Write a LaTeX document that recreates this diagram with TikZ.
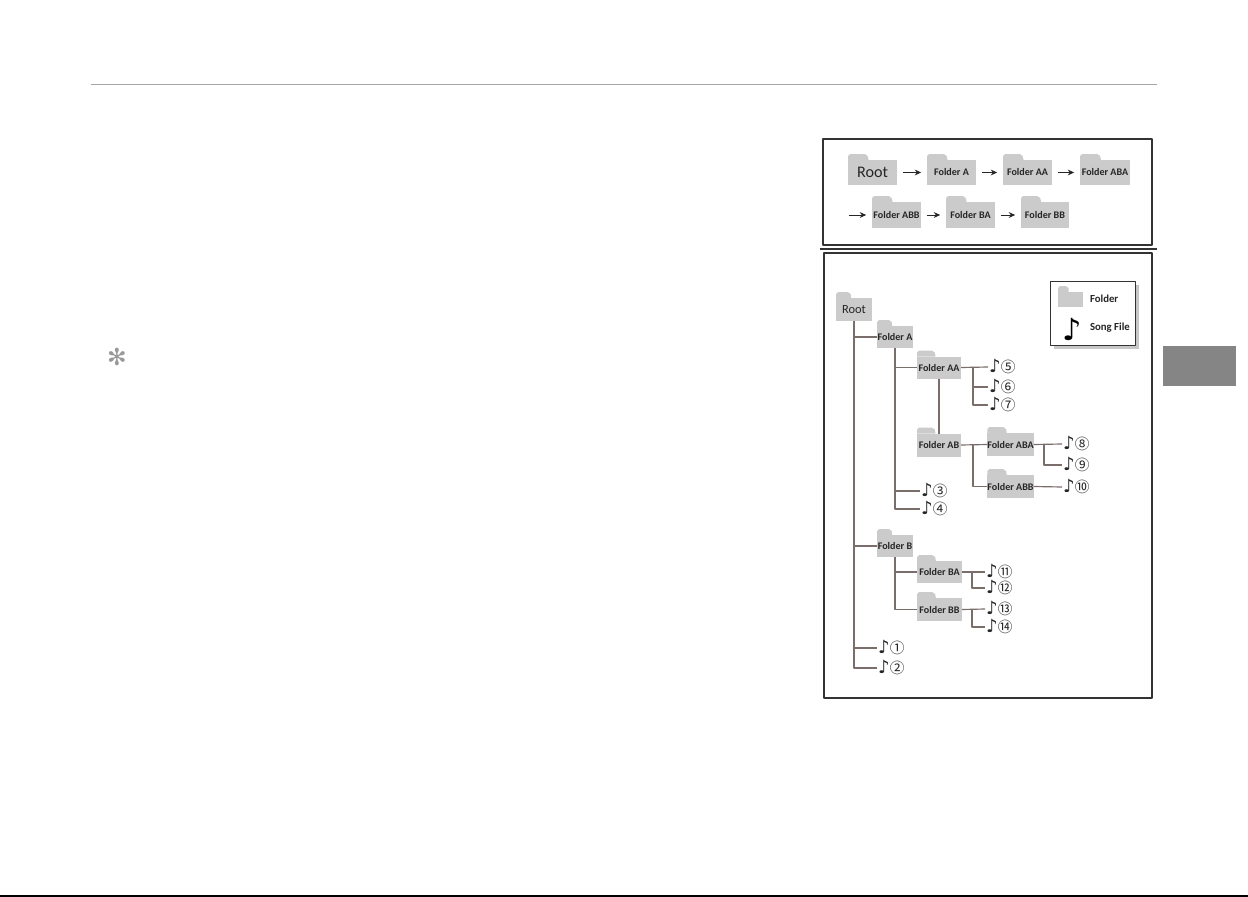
\documentclass[tikz,border=0pt]{standalone}
\usepackage{fontspec}
\setmainfont{Carlito}
\newfontfamily\notefont{DejaVu Sans}
\newfontfamily\numfont{Noto Sans CJK SC}
\usetikzlibrary{calc,shadows,arrows.meta}
\definecolor{foldergray}{HTML}{CBCBCB}
\definecolor{wirebrown}{HTML}{7A6E6B}
\definecolor{framedark}{HTML}{333333}
\tikzset{
	folderbody/.style={fill=foldergray, inner sep=0pt, outer sep=0pt, font=\fontsize{8.6}{9}\selectfont\bfseries, text=black!85},
	song/.style={anchor=west, inner sep=0pt, outer sep=0pt, text=black!85},
	wire/.style={draw=wirebrown, line width=1pt},
	flow/.style={->, draw=black!85, line width=0.85pt, shorten >=5pt, shorten <=5pt},
	framebox/.style={draw=framedark, line width=1.1pt},
}
% name, centre x, centre y, width, height, label
\newcommand{\folder}[6]{%
	\node[folderbody, minimum width=#4*0.03cm, minimum height=#5*0.03cm] (#1) at (#2,#3) {#6};
	\fill[foldergray] (#1.north west) -- ++(0,-4) -- ++(2,-2)
		-- ($(#1.north west)!0.38!(#1.north east)+(-2,-6)$)
		-- ($(#1.north west)!0.38!(#1.north east)+(1,-4)$)
		-- ($(#1.north west)!0.42!(#1.north east)$) -- cycle;
}
\begin{document}
\begin{tikzpicture}[x=0.03cm, y=-0.03cm, >={Stealth[length=5.5pt,width=5pt]}, line join=round]
	\useasboundingbox (0,0) rectangle (1248,897);
	\fill[white] (0,0) rectangle (1248,897);
	% page furniture
	\draw[black!35, line width=0.8pt] (91,84) -- (1157,84);
	\draw[black, line width=1pt] (0,896) -- (1248,896);
	\fill[black!48] (1163,346) rectangle (1236,386);
	\node[inner sep=0pt, text=black!40, font=\notefont\fontsize{20}{20}\selectfont] (star) at (117,357) {✻};
	% search order
	\draw[framebox] (823,139) rectangle (1152,245);
	\draw[framedark, line width=1pt] (820,249) -- (1157,249);
	\folder{orderRoot}{872.5}{172.5}{49}{25}{\fontsize{13.8}{14}\selectfont\mdseries Root}
	\folder{orderA}{951.5}{172.5}{49}{25}{Folder A}
	\folder{orderAA}{1027.5}{172.5}{49}{25}{Folder AA}
	\folder{orderABA}{1105}{172.5}{50}{25}{Folder ABA}
	\folder{orderABB}{896.5}{215}{49}{26}{Folder ABB}
	\folder{orderBA}{970.5}{215}{49}{26}{Folder BA}
	\folder{orderBB}{1045}{215}{48}{26}{Folder BB}
	\coordinate (orderStart) at (843,215);
	\draw[flow] (orderRoot) -- (orderA);
	\draw[flow] (orderA) -- (orderAA);
	\draw[flow] (orderAA) -- (orderABA);
	\draw[flow] (orderStart) -- (orderABB);
	\draw[flow] (orderABB) -- (orderBA);
	\draw[flow] (orderBA) -- (orderBB);
	% tree
	\draw[framebox] (824,253) rectangle (1152,698);
	\node[draw=framedark, line width=0.8pt, fill=white, minimum width=85*0.03cm, minimum height=64*0.03cm, inner sep=0pt,
		drop shadow={shadow xshift=3.5pt, shadow yshift=-3.5pt, opacity=1, fill=black!22}] (legend) at (1092.5,313) {};
	\folder{legendFolder}{1070.5}{299.5}{25}{15}{}
	\node[song, font=\bfseries\fontsize{9.2}{10}\selectfont] (legendFolderText) at (1090,299) {Folder};
	\node[inner sep=0pt, font=\notefont\fontsize{26}{26}\selectfont] (legendNote) at (1072,329) {♪};
	\node[song, font=\bfseries\fontsize{9.2}{10}\selectfont] (legendSongText) at (1090,328) {Song File};
	\folder{Root}{854}{309.5}{36}{23}{\fontsize{10.6}{11}\selectfont\mdseries Root}
	\folder{A}{895}{337}{36}{22}{Folder A}
	\folder{AA}{939}{367.5}{44}{22}{Folder AA}
	\folder{AB}{939}{445}{44}{23}{Folder AB}
	\folder{ABA}{1010.5}{444.5}{45}{23}{Folder ABA}
	\folder{ABB}{1010.5}{486.5}{45}{23}{Folder ABB}
	\folder{B}{895}{546}{36}{22}{Folder B}
	\folder{BA}{939.5}{572}{45}{22}{Folder BA}
	\folder{BB}{939.5}{609.5}{45}{23}{Folder BB}
	\foreach \n/\x/\y/\c in {
		1/877/648/①, 2/877/668/②, 3/920/491/③, 4/920/509/④,
		5/988/367/⑤, 6/988/387/⑥, 7/988/405/⑦, 8/1062/444/⑧, 9/1062/465/⑨, 10/1062/487/⑩,
		11/985/572/⑪, 12/985/588/⑫, 13/985/609/⑬, 14/985/627/⑭}
		\node[song] (s\n) at (\x,\y) {{\notefont\fontsize{15.5}{16}\selectfont\hspace{1pt}♪}{\numfont\fontsize{12.5}{13}\selectfont\c}};
	\path
		(973,0) coordinate (jAA)
		(973,0) coordinate (jAB)
		(1044,0) coordinate (jABA)
		(972,0) coordinate (jBA)
		(972,0) coordinate (jBB)
		;
	\draw[wire] (Root.south) |- (s2.west);
	\draw[wire] (Root.south |- A.west) -- (A.west);
	\draw[wire] (Root.south |- B.west) -- (B.west);
	\draw[wire] (Root.south |- s1.west) -- (s1.west);
	\draw[wire] (A.south) |- (s4.west);
	\draw[wire] (A.south |- AA.west) -- (AA.west);
	\draw[wire] (A.south |- s3.west) -- (s3.west);
	\draw[wire] (AA.east) -- (s5.west);
	\draw[wire] (jAA |- s5.west) |- (s6.west);
	\draw[wire] (jAA |- s5.west) |- (s7.west);
	\draw[wire] (AA.south) -- (AB.north);
	\draw[wire] (AB.east) -- (ABA.west);
	\draw[wire] (jAB |- ABA.west) |- (ABB.west);
	\draw[wire] (ABA.east) -- (s8.west);
	\draw[wire] (jABA |- s8.west) |- (s9.west);
	\draw[wire] (ABB.east) -- (s10.west);
	\draw[wire] (B.south) |- (BB.west);
	\draw[wire] (B.south |- BA.west) -- (BA.west);
	\draw[wire] (BA.east) -- (s11.west);
	\draw[wire] (jBA |- s11.west) |- (s12.west);
	\draw[wire] (BB.east) -- (s13.west);
	\draw[wire] (jBB |- s13.west) |- (s14.west);
\end{tikzpicture}
\end{document}
